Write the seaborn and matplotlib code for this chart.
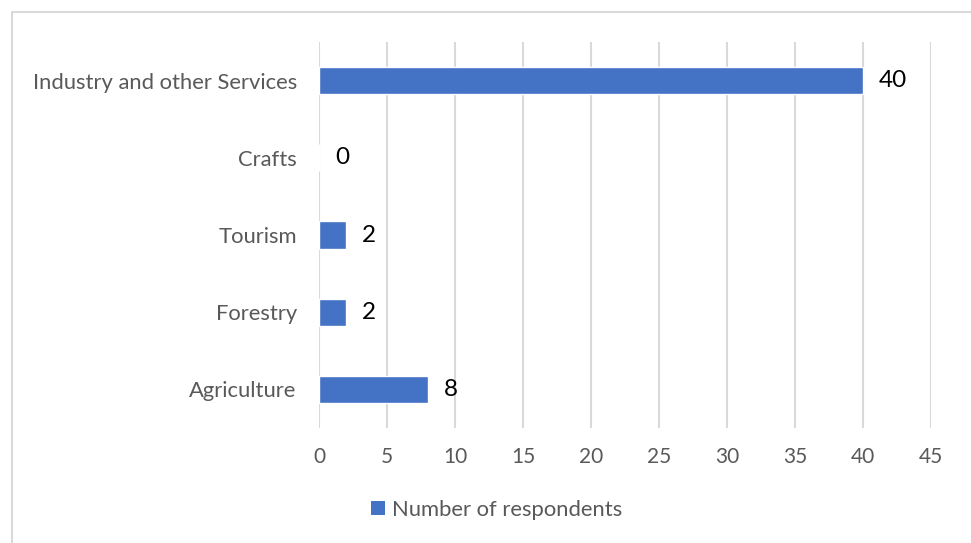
import matplotlib
matplotlib.use("Agg")
import matplotlib.pyplot as plt
import seaborn as sns
import pandas as pd
from matplotlib.patches import Rectangle, Patch

categories = ["Industry and other Services", "Crafts", "Tourism", "Forestry", "Agriculture"]
values = [40, 0, 2, 2, 8]
series_name = "Number of respondents"
x_ticks = [0, 5, 10, 15, 20, 25, 30, 35, 40, 45]

sns.set_theme(style="white")
plt.rcParams["font.family"] = ["Lato", "DejaVu Sans"]

W, H = 971, 543
fig = plt.figure(figsize=(W / 100, H / 100), dpi=100)
ax = fig.add_axes([319 / W, 1 - 428 / H, (931 - 319) / W, (428 - 42) / H])

df = pd.DataFrame({"category": categories, "value": values})
bar_color = "#4472C4"
sns.barplot(data=df, x="value", y="category", color=bar_color, width=0.35,
            orient="h", ax=ax, saturation=1)

ax.set_xlim(0, 45)
ax.set_ylim(4.5, -0.5)
ax.set_xticks(x_ticks)
ax.set_xlabel("")
ax.set_ylabel("")
for s in ax.spines.values():
    s.set_visible(False)
ax.grid(axis="x", color="#D9D9D9", linewidth=1.5)
ax.grid(axis="y", visible=False)
ax.set_axisbelow(True)
ax.tick_params(axis="y", length=0, labelsize=15.8, colors="#595959", pad=16)
ax.tick_params(axis="x", length=0, labelsize=15, colors="#595959", pad=14)

for i, v in enumerate(values):
    ax.annotate(str(v), xy=(v, i), xytext=(11.5, 0), textcoords="offset points",
                ha="left", va="center", fontsize=17.5, color="black")

handle = Patch(facecolor=bar_color, edgecolor="none")
fig.legend([handle], [series_name], loc="center", bbox_to_anchor=(497 / W, 1 - 510 / H),
           frameon=False, fontsize=15.8, labelcolor="#595959", handlelength=0.6,
           handleheight=0.6, handletextpad=0.35)

border = Rectangle((12 / W, -0.05), 1.1, 1 - 12 / H + 0.05, transform=fig.transFigure,
                   fill=False, edgecolor="#D9D9D9", linewidth=1.5)
fig.patches.append(border)

fig.savefig("out.png", dpi=100)
